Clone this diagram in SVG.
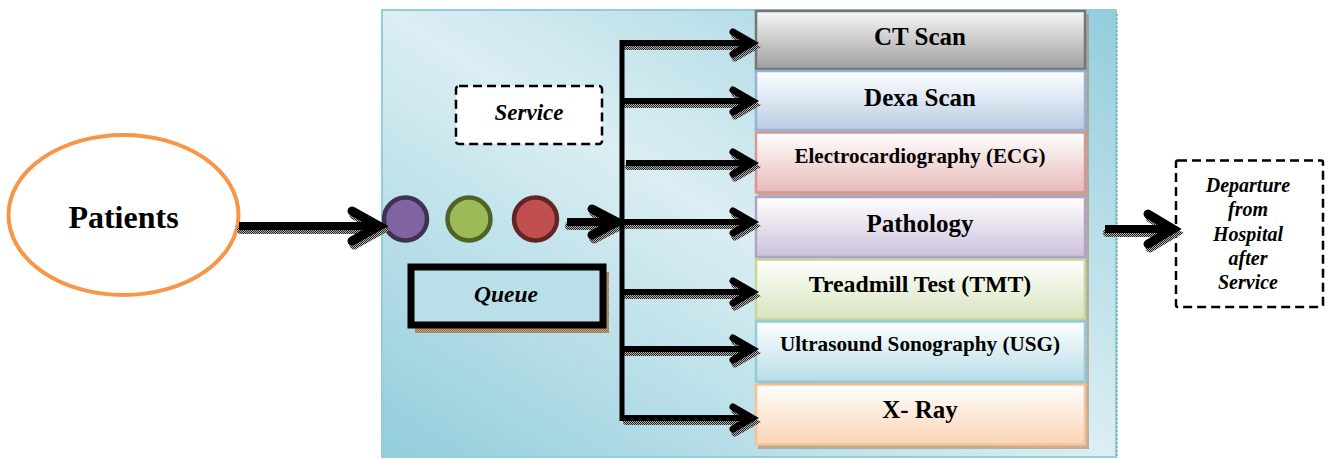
<svg xmlns="http://www.w3.org/2000/svg" width="1329" height="459" viewBox="0 0 1329 459">
<style>
  .t { font-family: "Liberation Serif", "Times New Roman", serif; font-weight: bold; fill: #000; text-anchor: middle; }
  .it { font-style: italic; }
  .ln { fill: none; stroke: #000; stroke-linejoin: miter; stroke-linecap: butt; }
  .hd { fill: none; stroke: #000; stroke-linejoin: miter; stroke-linecap: round; }
  .sh { fill: none; stroke: url(#hatch); stroke-linejoin: miter; stroke-linecap: round; }
  .dash { fill: #fff; stroke: #000; stroke-width: 2.5; stroke-dasharray: 9 5; }
</style>
<defs>
  <linearGradient id="bg" x1="0" y1="1" x2="1" y2="0">
    <stop offset="0" stop-color="#92cddc"/>
    <stop offset="0.5" stop-color="#dbeef3"/>
    <stop offset="1" stop-color="#92cddc"/>
  </linearGradient>
  <linearGradient id="gCT" x1="0" y1="0" x2="0" y2="1"><stop offset="0" stop-color="#f7f7f7"/><stop offset="1" stop-color="#a0a0a0"/></linearGradient>
  <linearGradient id="gDX" x1="0" y1="0" x2="0" y2="1"><stop offset="0" stop-color="#ffffff"/><stop offset="1" stop-color="#b8cce4"/></linearGradient>
  <linearGradient id="gEC" x1="0" y1="0" x2="0" y2="1"><stop offset="0" stop-color="#ffffff"/><stop offset="1" stop-color="#e6b9b8"/></linearGradient>
  <linearGradient id="gPA" x1="0" y1="0" x2="0" y2="1"><stop offset="0" stop-color="#ffffff"/><stop offset="1" stop-color="#ccc1da"/></linearGradient>
  <linearGradient id="gTM" x1="0" y1="0" x2="0" y2="1"><stop offset="0" stop-color="#ffffff"/><stop offset="1" stop-color="#d7e4bd"/></linearGradient>
  <linearGradient id="gUS" x1="0" y1="0" x2="0" y2="1"><stop offset="0" stop-color="#ffffff"/><stop offset="1" stop-color="#b7dde8"/></linearGradient>
  <linearGradient id="gXR" x1="0" y1="0" x2="0" y2="1"><stop offset="0" stop-color="#ffffff"/><stop offset="1" stop-color="#fbd4b4"/></linearGradient>
  <pattern id="hatch" patternUnits="userSpaceOnUse" width="2" height="2">
    <rect width="2" height="2" fill="#b0b0b0"/>
    <rect width="1" height="1" fill="#222"/>
    <rect x="1" y="1" width="1" height="1" fill="#222"/>
  </pattern>
  <pattern id="brown" patternUnits="userSpaceOnUse" width="2" height="2">
    <rect width="2" height="2" fill="#c8a788"/>
    <rect width="1" height="1" fill="#8c6a4a"/>
    <rect x="1" y="1" width="1" height="1" fill="#8c6a4a"/>
  </pattern>
</defs>

<g id="background">
  <rect x="382" y="10" width="734" height="447" fill="url(#bg)" stroke="#92cddc" stroke-width="2"/>
  <line x1="1117" y1="14" x2="1117" y2="457" stroke="#6fa8b8" stroke-width="1.5" stroke-dasharray="2 2"/>
</g>

<g id="patients">
  <ellipse cx="123.5" cy="215" rx="115" ry="80" fill="#fff" stroke="#f79646" stroke-width="4"/>
  <text class="t" x="123.5" y="228" font-size="32">Patients</text>
</g>

<g id="service-label">
  <rect class="dash" x="456" y="86" width="146" height="58" rx="3"/>
  <text class="t it" x="529" y="120" font-size="23">Service</text>
</g>

<g id="queue">
  <rect x="415" y="272" width="194" height="61" fill="url(#brown)"/>
  <rect x="411" y="267" width="192" height="58" fill="#b9e0e9" stroke="#000" stroke-width="7"/>
  <text class="t it" x="506" y="302" font-size="23.5">Queue</text>
</g>

<g id="queue-items">
  <circle cx="405.5" cy="219" r="21.5" fill="#8064a2" stroke="#3f3151" stroke-width="4.5"/>
  <circle cx="469" cy="219" r="21.5" fill="#9bbb59" stroke="#4f6228" stroke-width="4.5"/>
  <circle cx="535.5" cy="219" r="21.5" fill="#c0504d" stroke="#632523" stroke-width="4.5"/>
</g>

<g id="services">
  <rect x="758" y="14" width="331" height="435" fill="url(#brown)" opacity="0.6"/>
  <g id="ct-scan">
    <rect x="756" y="11" width="329" height="58" fill="url(#gCT)" stroke="#767676" stroke-width="2.5"/>
    <text class="t" x="920" y="45" font-size="25">CT Scan</text>
  </g>
  <g id="dexa-scan">
    <rect x="756" y="71" width="329" height="59" fill="url(#gDX)" stroke="#95b3d7" stroke-width="2.5"/>
    <text class="t" x="920" y="106" font-size="25">Dexa Scan</text>
  </g>
  <g id="ecg">
    <rect x="756" y="132.5" width="329" height="60" fill="url(#gEC)" stroke="#d99694" stroke-width="2.5"/>
    <text class="t" x="920" y="163" font-size="21">Electrocardiography (ECG)</text>
  </g>
  <g id="pathology">
    <rect x="756" y="197" width="329" height="60" fill="url(#gPA)" stroke="#b3a2c7" stroke-width="2.5"/>
    <text class="t" x="920" y="232" font-size="25">Pathology</text>
  </g>
  <g id="tmt">
    <rect x="756" y="259.5" width="329" height="60" fill="url(#gTM)" stroke="#c3d69b" stroke-width="2.5"/>
    <text class="t" x="920" y="292" font-size="23.8">Treadmill Test (TMT)</text>
  </g>
  <g id="usg">
    <rect x="756" y="321.5" width="329" height="60" fill="url(#gUS)" stroke="#93cddd" stroke-width="2.5"/>
    <text class="t" x="920" y="351" font-size="21.2">Ultrasound Sonography (USG)</text>
  </g>
  <g id="xray">
    <rect x="756" y="384.5" width="329" height="60" fill="url(#gXR)" stroke="#fac090" stroke-width="2.5"/>
    <text class="t" x="920" y="418" font-size="25">X- Ray</text>
  </g>
</g>

<g id="departure">
  <rect class="dash" x="1176" y="160.5" width="147" height="146.5" rx="2"/>
  <text class="t it" font-size="20" x="1248" y="192">Departure</text>
  <text class="t it" font-size="20" x="1248" y="216">from</text>
  <text class="t it" font-size="20" x="1248" y="240.5">Hospital</text>
  <text class="t it" font-size="20" x="1248" y="265">after</text>
  <text class="t it" font-size="20" x="1248" y="289">Service</text>
</g>

<g id="connectors">
  <g transform="translate(2,4)">
    <path class="sh" stroke-width="8" d="M239,226 H377"/>
    <path class="sh" stroke-width="9" d="M352,211 L379,226 L352,241"/>
    <path class="sh" stroke-width="8" d="M567,222 H615"/>
    <path class="sh" stroke-width="9" d="M592,209 L617,222 L592,235"/>
    <path class="sh" stroke-width="8" d="M1105,229 H1171"/>
    <path class="sh" stroke-width="9" d="M1148,214 L1173,229 L1148,244"/>
    <path class="sh" stroke-width="6" d="M624,43 H750 M624,101 H750 M626,163 H750 M624,222 H750 M624,292 H750 M624,349 H750 M624,418 H750"/>
    <path class="sh" stroke-width="7" d="M733,32 L752,43 L733,54 M733,90 L752,101 L733,112 M733,152 L752,163 L733,174 M733,211 L752,222 L733,233 M733,281 L752,292 L733,303 M733,338 L752,349 L733,360 M733,407 L752,418 L733,429"/>
  </g>
  <path class="ln" stroke-width="8" d="M239,226 H377"/>
  <path class="hd" stroke-width="9" d="M352,211 L379,226 L352,241"/>
  <path class="ln" stroke-width="8" d="M567,222 H615"/>
  <path class="hd" stroke-width="9" d="M592,209 L617,222 L592,235"/>
  <path class="ln" stroke-width="5" d="M622,40 V421"/>
  <path class="ln" stroke-width="6" d="M620,43 H750 M622,101 H750 M626,163 H750 M622,222 H750 M622,292 H750 M622,349 H750 M620,418 H750"/>
  <path class="hd" stroke-width="7" d="M733,32 L752,43 L733,54 M733,90 L752,101 L733,112 M733,152 L752,163 L733,174 M733,211 L752,222 L733,233 M733,281 L752,292 L733,303 M733,338 L752,349 L733,360 M733,407 L752,418 L733,429"/>
  <path class="ln" stroke-width="8" d="M1105,229 H1171"/>
  <path class="hd" stroke-width="9" d="M1148,214 L1173,229 L1148,244"/>
</g>
</svg>
